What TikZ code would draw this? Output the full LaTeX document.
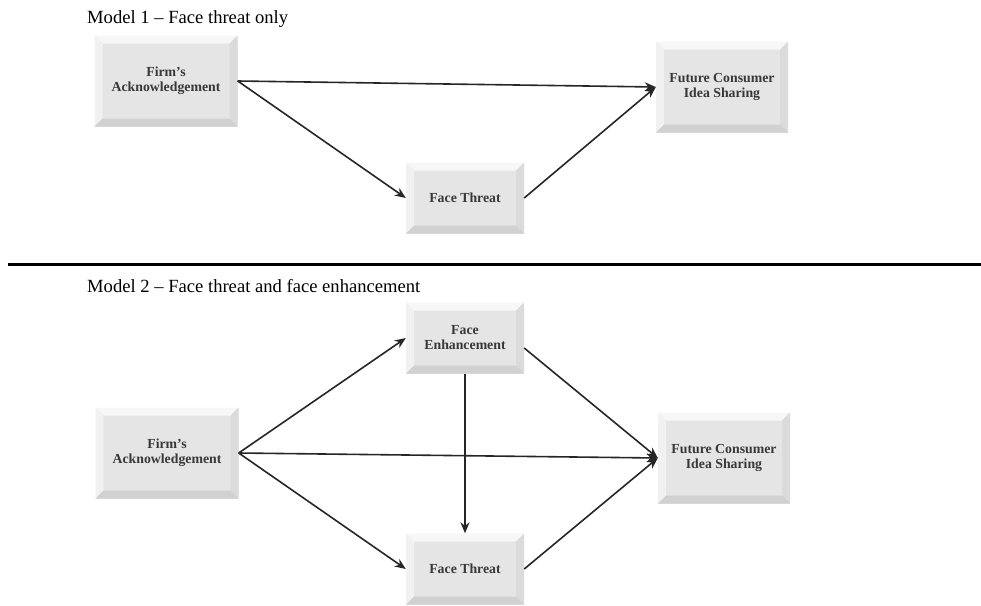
\documentclass[tikz,border=0pt]{standalone}
\usepackage{fontspec}
\setmainfont{Liberation Serif}
\usetikzlibrary{arrows.meta}

\begin{document}
\begin{tikzpicture}[x=1pt,y=-1pt,align=center]
\tikzstyle{box} = [rectangle, minimum width=143pt, minimum height=91pt, inner sep=0pt, text centered,
  font=\fontsize{13.8}{15}\selectfont\bfseries, text=black!78,
  path picture={
    \coordinate (nw) at (path picture bounding box.north west);
    \coordinate (se) at (path picture bounding box.south east);
    \fill[gray!20] (nw) rectangle (se);
    \fill[gray!6] (nw) -- (nw -| se) -- ([shift={(-8pt,-8pt)}]nw -| se) -- ([shift={(8pt,-8pt)}]nw) -- cycle;
    \fill[gray!11] (nw) -- ([shift={(8pt,-8pt)}]nw) -- ([shift={(8pt,8pt)}]nw |- se) -- (nw |- se) -- cycle;
    \fill[gray!28] (nw -| se) -- (se) -- ([shift={(-8pt,8pt)}]se) -- ([shift={(-8pt,-8pt)}]nw -| se) -- cycle;
    \fill[gray!36] (nw |- se) -- (se) -- ([shift={(-8pt,8pt)}]se) -- ([shift={(8pt,8pt)}]nw |- se) -- cycle;
  }]
\tikzstyle{smallbox} = [box, minimum width=118pt, minimum height=71pt]
\tikzstyle{rightbox} = [box, minimum width=132pt]
\tikzstyle{title} = [anchor=west, inner sep=0pt, font=\fontsize{18.6}{20}\selectfont]
\tikzstyle{arrow} = [line width=1.6pt,->,>={Stealth[length=11pt,width=9pt]},black!85]
\useasboundingbox (0,0) rectangle (981,605);

% Model 1
\path
    (87, 19) node[title] (title1) {Model 1 -- Face threat only}
    (166, 81) node[box] (firm1) {Firm's\\Acknowledgement}
    (465, 198) node[smallbox] (threat1) {Face Threat}
    (722, 87) node[rightbox] (future1) {Future Consumer\\Idea Sharing};

\draw [arrow] (firm1.east) -- (future1.west);
\draw [arrow] (firm1.east) -- (threat1.west);
\draw [arrow] (threat1.east) -- (future1.west);

% separator
\coordinate (sepl) at (8, 264);
\coordinate (sepr) at (981, 264);
\draw [line width=3pt] (sepl) -- (sepr);

% Model 2
\path
    (87, 286) node[title] (title2) {Model 2 -- Face threat and face enhancement}
    (465, 338) node[smallbox] (enh) {Face\\Enhancement}
    (167, 453) node[box] (firm2) {Firm's\\Acknowledgement}
    (724, 458) node[rightbox] (future2) {Future Consumer\\Idea Sharing}
    (465, 569) node[smallbox] (threat2) {Face Threat};

\draw [arrow] (firm2.east) -- (enh.west);
\draw [arrow] (firm2.east) -- (future2.west);
\draw [arrow] (firm2.east) -- (threat2.west);
\draw [arrow] ([yshift=-10pt]enh.east) -- (future2.west);
\draw [arrow] (threat2.east) -- (future2.west);
\draw [arrow] (enh.south) -- (threat2.north);
\end{tikzpicture}
\end{document}
